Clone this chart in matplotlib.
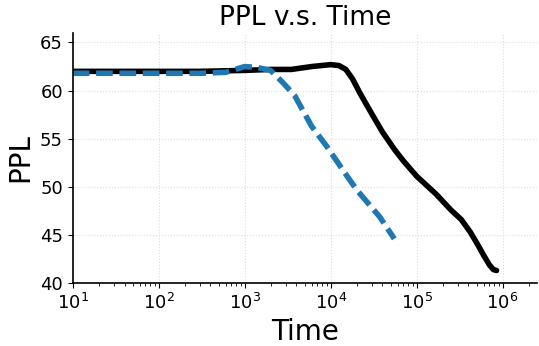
import matplotlib
matplotlib.use("Agg")
import matplotlib.pyplot as plt

# black solid curve
t_black = [10, 30, 100, 300, 1000, 2000, 3500, 6000, 10000, 12500, 15000, 18000,
           22000, 30000, 40000, 55000, 70000, 100000, 140000, 170000, 250000,
           330000, 420000, 520000, 600000, 700000, 780000, 850000]
ppl_black = [62.0, 62.0, 62.0, 62.0, 62.1, 62.2, 62.2, 62.5, 62.7, 62.6, 62.2, 61.2,
             59.7, 57.6, 55.7, 53.9, 52.7, 51.1, 49.9, 49.2, 47.6,
             46.6, 45.3, 43.9, 42.9, 41.9, 41.4, 41.3]

# blue dashed curve
t_blue = [10, 30, 100, 300, 600, 1000, 1400, 2000, 2800, 3800, 6000, 9000,
          15000, 20000, 37000, 55000]
ppl_blue = [61.8, 61.8, 61.8, 61.8, 61.9, 62.5, 62.4, 62.1, 60.8, 59.5, 56.3, 54.2,
            51.3, 49.7, 46.9, 44.6]

fig = plt.figure(figsize=(5.39, 3.46), dpi=100)
ax = fig.add_axes([0.135, 0.182, 0.861, 0.723])

ax.plot(t_black, ppl_black, color="black", lw=4, solid_capstyle="round",
        solid_joinstyle="round")
ax.plot(t_blue, ppl_blue, color="#1f77b4", lw=4, ls="--", dashes=(3, 1.2))

ax.set_xscale("log")
ax.set_xlim(10, 2.5e6)
ax.set_ylim(40, 66)
ax.set_yticks([40, 45, 50, 55, 60, 65])
ax.grid(True, which="major", color="#dddddd", ls=":", lw=0.8)
ax.spines["top"].set_visible(False)
ax.spines["right"].set_visible(False)
ax.spines["left"].set_linewidth(1.2)
ax.spines["bottom"].set_linewidth(1.2)
ax.tick_params(labelsize=13)

ax.set_title("PPL v.s. Time", fontsize=19)
ax.set_xlabel("Time", fontsize=20)
ax.set_ylabel("PPL", fontsize=20)

fig.savefig("out.png", dpi=100)
